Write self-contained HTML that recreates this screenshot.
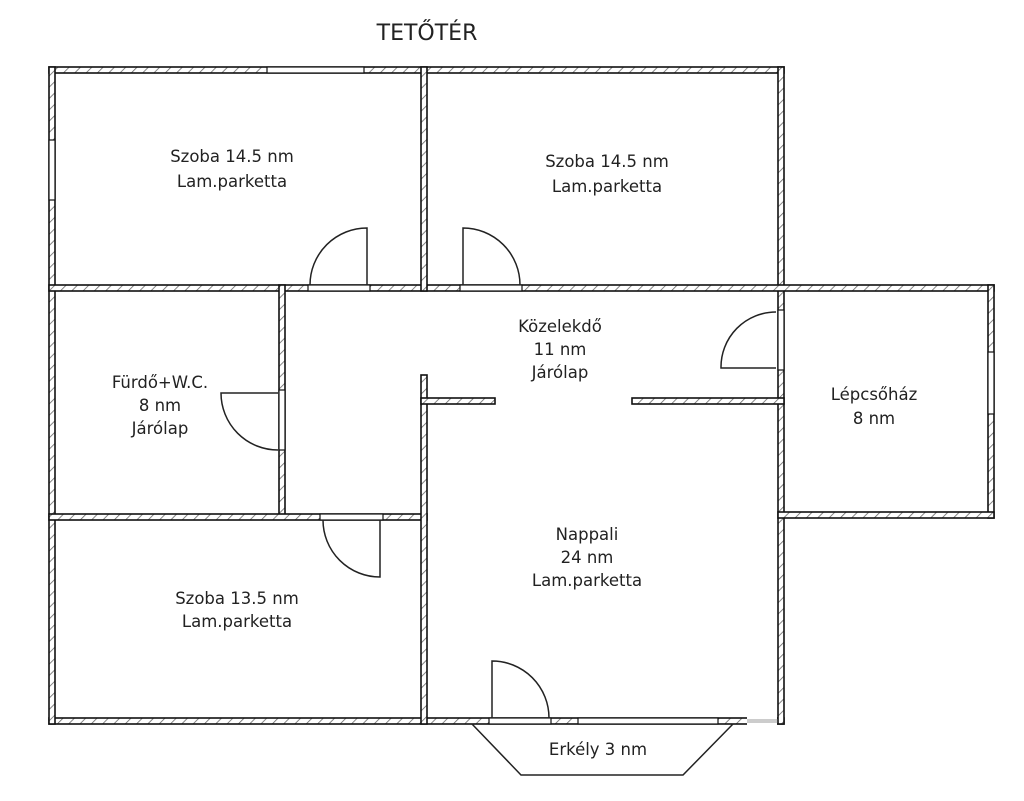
<!DOCTYPE html>
<html><head><meta charset="utf-8"><style>
html,body{margin:0;padding:0;background:#fff;}
svg{display:block}
text{font-family:"DejaVu Sans","Liberation Sans",sans-serif;font-size:16.5px;fill:#222;text-anchor:middle}
</style></head><body>
<svg width="1024" height="801" viewBox="0 0 1024 801" xmlns="http://www.w3.org/2000/svg">
<defs>
<pattern id="h" width="8" height="8" patternUnits="userSpaceOnUse" patternTransform="rotate(45)">
<rect width="8" height="8" fill="#fff"/><line x1="0" y1="0" x2="0" y2="8" stroke="#666" stroke-width="1.6"/></pattern>
</defs>
<text x="427" y="40" style="font-size:22px">TETŐTÉR</text>
<g fill="url(#h)" stroke="#111" stroke-width="1.6">
<rect x="49" y="67" width="735" height="6"/>
<rect x="49" y="718" width="735" height="6"/>
<rect x="49" y="67" width="6" height="657"/>
<rect x="778" y="67" width="6" height="657"/>
<rect x="49" y="285" width="945" height="6"/>
<rect x="421" y="67" width="6" height="224"/>
<rect x="279" y="285" width="6" height="233"/>
<rect x="49" y="514" width="378" height="6"/>
<rect x="421" y="375" width="6" height="349"/>
<rect x="421" y="398" width="74" height="6"/>
<rect x="632" y="398" width="152" height="6"/>
<rect x="988" y="285" width="6" height="233"/>
<rect x="778" y="512" width="216" height="6"/>
</g>
<g fill="#fff" stroke="#111" stroke-width="1.2">
<rect x="267" y="67" width="97" height="6"/>
<rect x="49" y="140" width="6" height="60"/>
<rect x="308" y="285" width="62" height="6"/>
<rect x="460" y="285" width="62" height="6"/>
<rect x="279" y="390" width="6" height="60"/>
<rect x="778" y="310" width="6" height="60"/>
<rect x="320" y="514" width="63" height="6"/>
<rect x="489" y="718" width="62" height="6"/>
<rect x="578" y="718" width="140" height="6"/>
<rect x="988" y="352" width="6" height="62"/>
</g>
<rect x="747" y="717" width="30" height="8" fill="#fff"/>
<line x1="747" y1="721" x2="777" y2="721" stroke="#ccc" stroke-width="4"/>
<g fill="none" stroke="#222" stroke-width="1.5">
<path d="M367 285 V228 A57 57 0 0 0 310 285"/>
<path d="M463 285 V228 A57 57 0 0 1 520 285"/>
<path d="M278 393 H221 A57 57 0 0 0 278 450"/>
<path d="M776 368 H721 A55 55 0 0 1 776 312"/>
<path d="M380 520 V577 A57 57 0 0 1 323 520"/>
<path d="M492 718 V661 A57 57 0 0 1 549 718"/>
<path d="M472 724 L521 775 H683 L733 724"/>
</g>
<text x="232" y="162">Szoba 14.5 nm</text>
<text x="232" y="187">Lam.parketta</text>
<text x="607" y="167">Szoba 14.5 nm</text>
<text x="607" y="192">Lam.parketta</text>
<text x="560" y="332">Közelekdő</text>
<text x="560" y="355">11 nm</text>
<text x="560" y="378">Járólap</text>
<text x="160" y="388">Fürdő+W.C.</text>
<text x="160" y="411">8 nm</text>
<text x="160" y="434">Járólap</text>
<text x="874" y="400">Lépcsőház</text>
<text x="874" y="424">8 nm</text>
<text x="587" y="540">Nappali</text>
<text x="587" y="563">24 nm</text>
<text x="587" y="586">Lam.parketta</text>
<text x="237" y="604">Szoba 13.5 nm</text>
<text x="237" y="627">Lam.parketta</text>
<text x="598" y="755">Erkély 3 nm</text>
</svg>
</body></html>
